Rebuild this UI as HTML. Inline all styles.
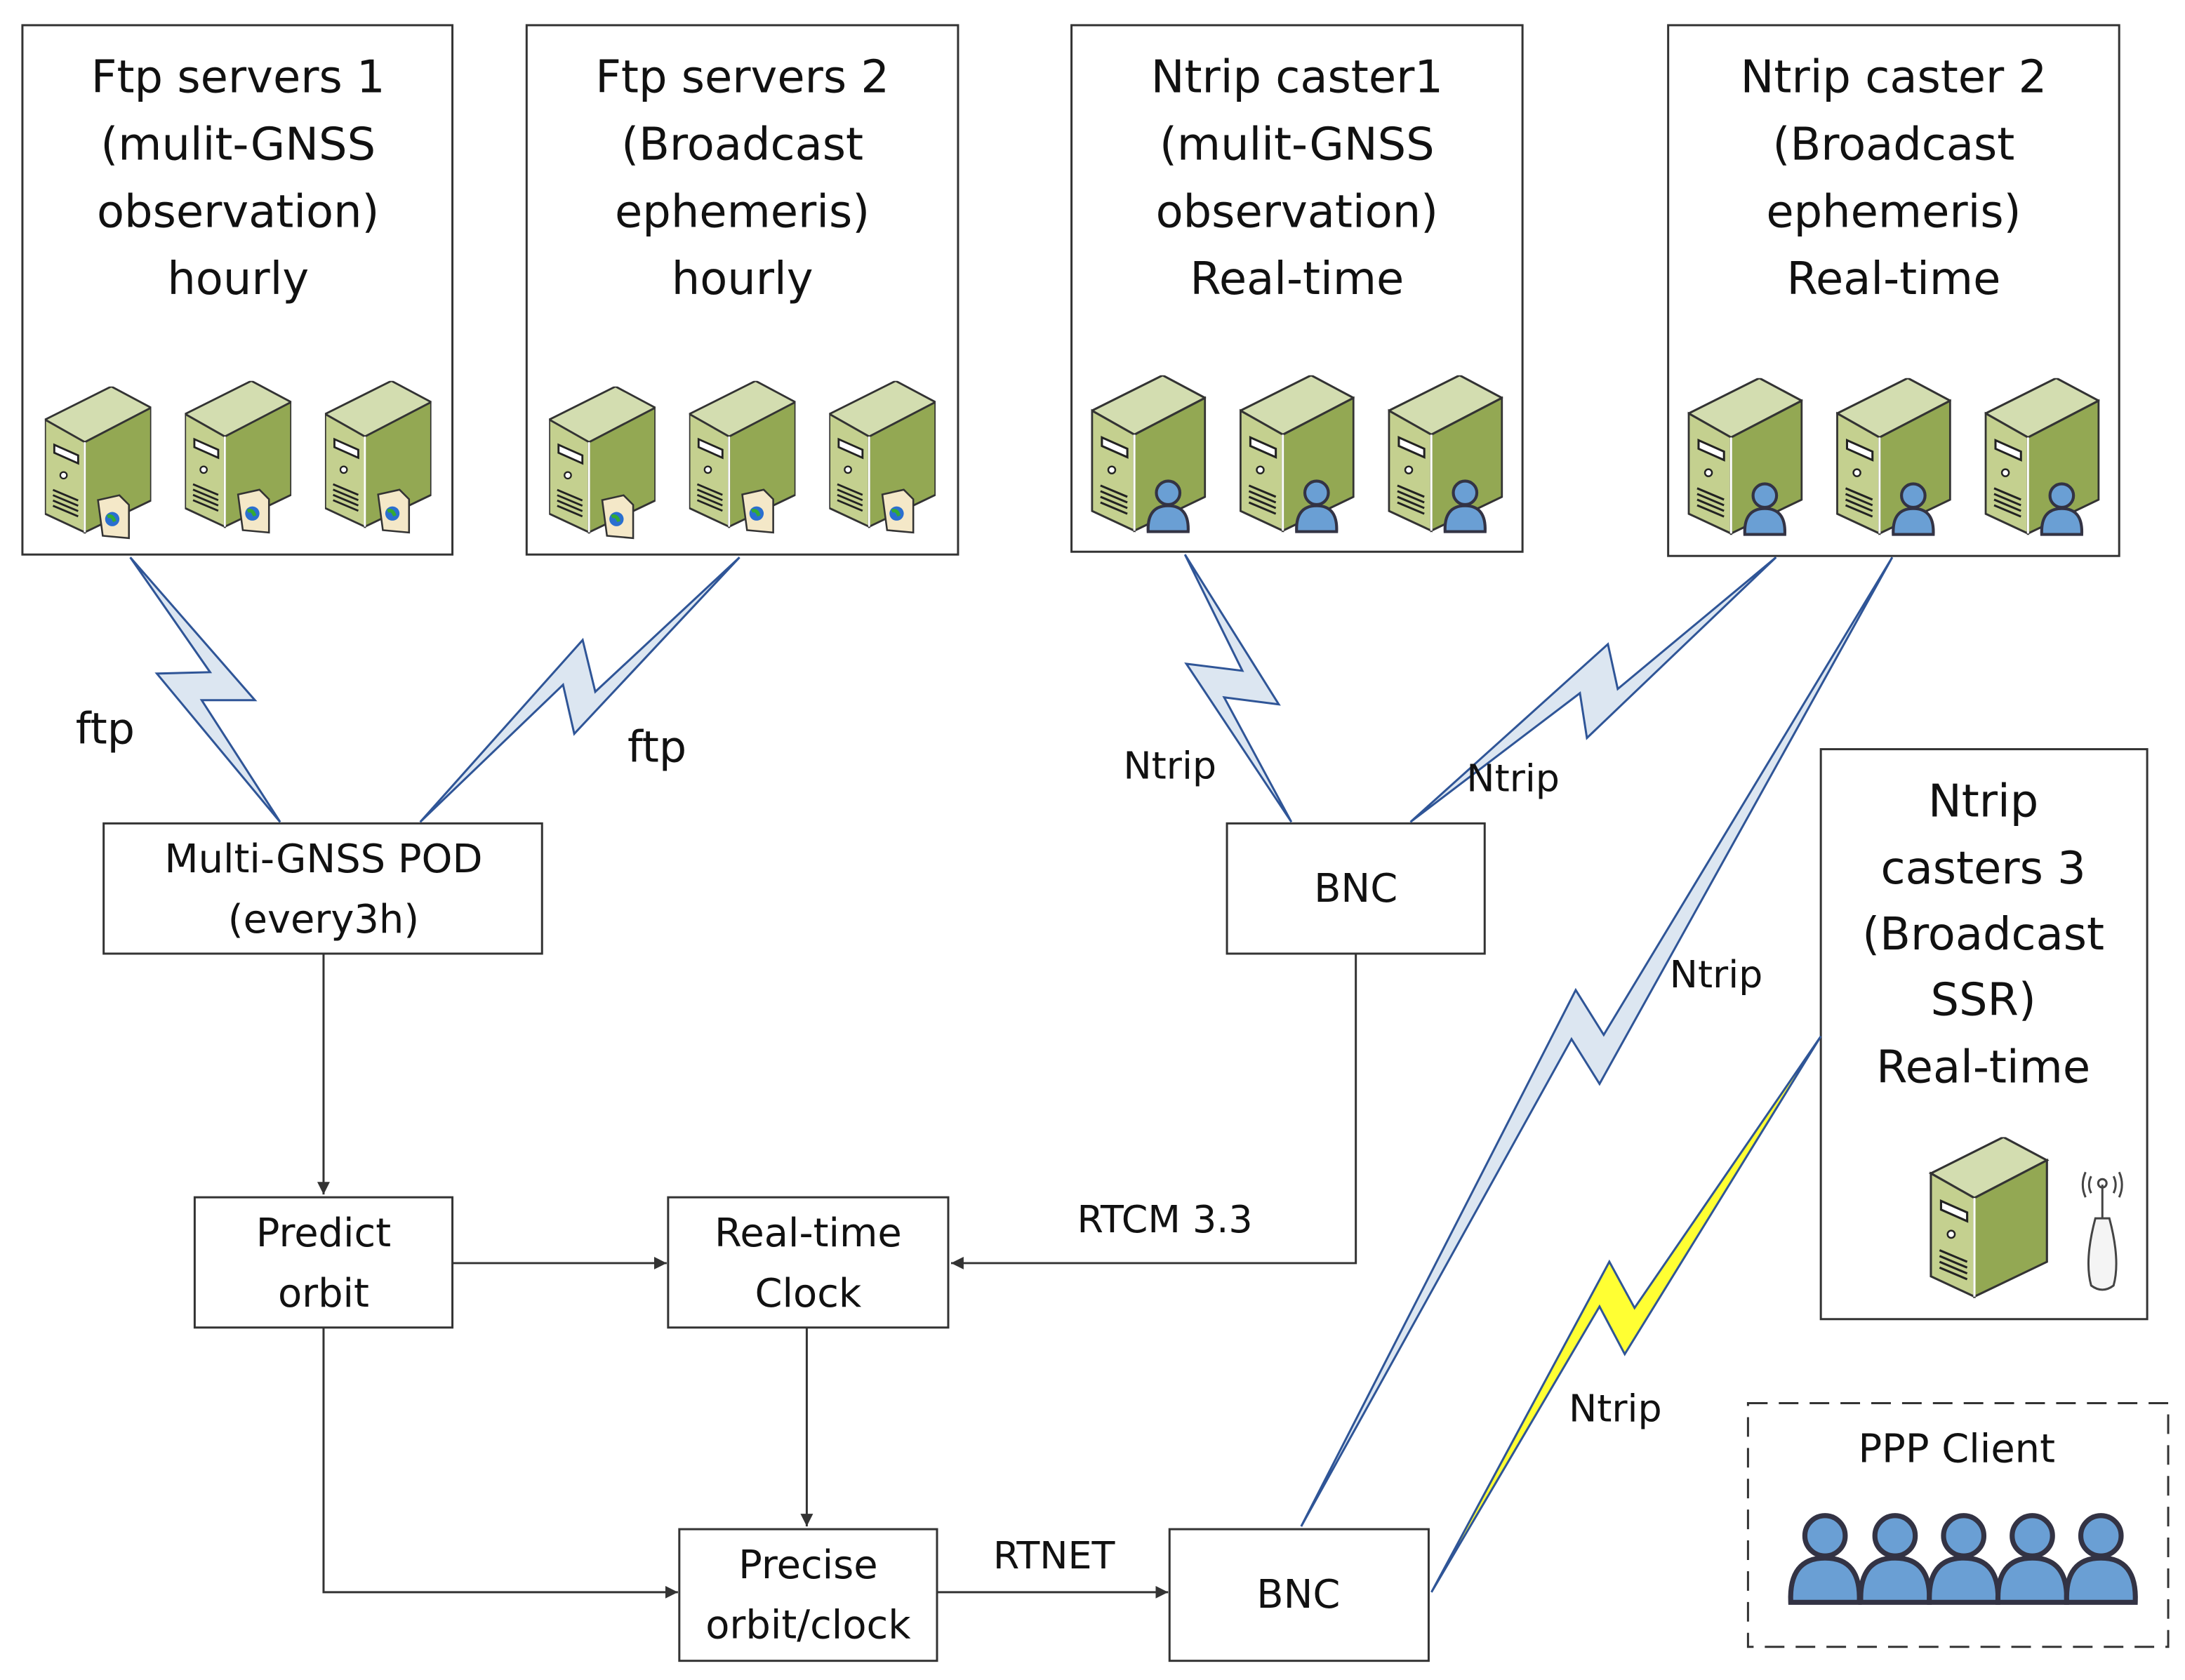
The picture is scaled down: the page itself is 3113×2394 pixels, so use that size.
<!DOCTYPE html>
<html><head><meta charset="utf-8"><style>
html,body{margin:0;padding:0;background:#fff}
svg{display:block}
text{font-family:"DejaVu Sans","Liberation Sans",sans-serif;fill:#111}
</style></head><body>
<svg width="3113" height="2394" viewBox="0 0 1560 1199.7" preserveAspectRatio="none" xmlns="http://www.w3.org/2000/svg">
<defs>
<symbol id="srv" viewBox="0 0 80 112">
<polygon points="0,25 50,0 80,16 30,42" fill="#d3ddb0" stroke="#333" stroke-width="1.5"/>
<polygon points="0,25 30,42 30,110 0,96" fill="#c4d08f" stroke="#333" stroke-width="1.5"/>
<polygon points="30,42 80,16 80,86 30,110" fill="#93a853" stroke="#333" stroke-width="1.5"/>
<line x1="30" y1="42" x2="30" y2="110" stroke="#fff" stroke-width="1.5"/>
<polygon points="7,44 25,52 25,58 7,50" fill="#fff" stroke="#222" stroke-width="1.5"/>
<circle cx="14" cy="67" r="2.5" fill="#fff" stroke="#222" stroke-width="1.2"/>
<path d="M6,78 L25,86 M6,82 L25,90 M6,86 L25,94 M6,90 L25,98" stroke="#222" stroke-width="1.5"/>
</symbol>
<symbol id="usr" viewBox="0 0 40 50">
<circle cx="20" cy="13" r="10" fill="#6a9fd4" stroke="#334" stroke-width="2.5"/>
<path d="M3,46 Q2,24 20,24 Q38,24 37,46 Z" fill="#6a9fd4" stroke="#334" stroke-width="2.5"/>
</symbol>
<symbol id="doc" viewBox="0 0 30 40">
<polygon points="2,6 20,2 28,10 28,38 6,36" fill="#f4e8c8" stroke="#333" stroke-width="1.5"/>
<circle cx="14" cy="22" r="6" fill="#2a6fd0"/><path d="M10,20 Q14,18 16,24" stroke="#3a3" stroke-width="3" fill="none"/>
</symbol>
<marker id="ar" viewBox="0 0 10 10" refX="10" refY="5" markerWidth="9" markerHeight="9" markerUnits="userSpaceOnUse" orient="auto"><path d="M0,0 L10,5 L0,10 Z" fill="#333"/></marker>
</defs>

<g fill="#fff" stroke="#333" stroke-width="1.5">
<rect x="16" y="18" width="307" height="378"/>
<rect x="376" y="18" width="308" height="378"/>
<rect x="765" y="18" width="322" height="376"/>
<rect x="1191" y="18" width="322" height="379"/>
<rect x="1300" y="535" width="233" height="407"/>
<rect x="74" y="588" width="313" height="93"/>
<rect x="876" y="588" width="184" height="93"/>
<rect x="139" y="855" width="184" height="93"/>
<rect x="477" y="855" width="200" height="93"/>
<rect x="485" y="1092" width="184" height="94"/>
<rect x="835" y="1092" width="185" height="94"/>
<rect x="1248" y="1002" width="300" height="174" stroke-dasharray="14,8"/>
</g>

<g fill="#dce6f1" stroke="#2f5597" stroke-width="1.5" stroke-linejoin="miter">
<polygon points="93,398 182,500 144,500 200,587 112,481 150,480"/>
<polygon points="528,398 425,494 416,457 300,587 402,489 410,524"/>
<polygon points="846,396 913,503 874,498 922,587 847,474 887,479"/>
<polygon points="1268,398 1155,492 1148,460 1007,587 1128,495 1133,527"/>
<polygon points="1351,398 1145,739 1125,707 929,1090 1122,742 1142,774"/>
<polygon points="1300,740 1167,934 1149,901 1022,1137 1142,933 1160,967" fill="#ffff33"/>
</g>

<g font-size="32" text-anchor="middle">
<text x="170" y="66">Ftp servers 1</text><text x="170" y="114">(mulit-GNSS</text><text x="170" y="162">observation)</text><text x="170" y="210">hourly</text>
<text x="530" y="66">Ftp servers 2</text><text x="530" y="114">(Broadcast</text><text x="530" y="162">ephemeris)</text><text x="530" y="210">hourly</text>
<text x="926" y="66">Ntrip caster1</text><text x="926" y="114">(mulit-GNSS</text><text x="926" y="162">observation)</text><text x="926" y="210">Real-time</text>
<text x="1352" y="66">Ntrip caster 2</text><text x="1352" y="114">(Broadcast</text><text x="1352" y="162">ephemeris)</text><text x="1352" y="210">Real-time</text>
<text x="1416" y="583">Ntrip</text><text x="1416" y="631">casters 3</text><text x="1416" y="678">(Broadcast</text><text x="1416" y="725">SSR)</text><text x="1416" y="773">Real-time</text>
</g>
<g font-size="28" text-anchor="middle">
<text x="231" y="623">Multi-GNSS POD</text><text x="231" y="666">(every3h)</text>
<text x="968" y="644">BNC</text>
<text x="231" y="890">Predict</text><text x="231" y="933">orbit</text>
<text x="577" y="890">Real-time</text><text x="577" y="933">Clock</text>
<text x="577" y="1127">Precise</text><text x="577" y="1170">orbit/clock</text>
<text x="927" y="1148">BNC</text>
<text x="1397" y="1044">PPP Client</text>
</g>
<g font-size="31"><text x="54" y="531">ftp</text><text x="448" y="544">ftp</text></g>
<g font-size="27">
<text x="802" y="556">Ntrip</text><text x="1047" y="565">Ntrip</text><text x="1192" y="705">Ntrip</text><text x="1120" y="1015">Ntrip</text>
<text x="769" y="880">RTCM 3.3</text><text x="709" y="1120">RTNET</text>
</g>

<g stroke="#333" stroke-width="1.5" fill="none" marker-end="url(#ar)">
<path d="M231,681 V853"/>
<path d="M323,902 H476"/>
<path d="M968,681 V902 H679"/>
<path d="M576,948 V1090"/>
<path d="M231,948 V1137 H484"/>
<path d="M669,1137 H834"/>
</g>

<g>
<use href="#srv" x="32" y="276" width="76" height="106"/><use href="#doc" x="68" y="352" width="26" height="34"/>
<use href="#srv" x="132" y="272" width="76" height="106"/><use href="#doc" x="168" y="348" width="26" height="34"/>
<use href="#srv" x="232" y="272" width="76" height="106"/><use href="#doc" x="268" y="348" width="26" height="34"/>
<use href="#srv" x="392" y="276" width="76" height="106"/><use href="#doc" x="428" y="352" width="26" height="34"/>
<use href="#srv" x="492" y="272" width="76" height="106"/><use href="#doc" x="528" y="348" width="26" height="34"/>
<use href="#srv" x="592" y="272" width="76" height="106"/><use href="#doc" x="628" y="348" width="26" height="34"/>
<use href="#srv" x="779" y="268" width="82" height="113"/><use href="#usr" x="817" y="341" width="34" height="42"/>
<use href="#srv" x="885" y="268" width="82" height="113"/><use href="#usr" x="923" y="341" width="34" height="42"/>
<use href="#srv" x="991" y="268" width="82" height="113"/><use href="#usr" x="1029" y="341" width="34" height="42"/>
<use href="#srv" x="1205" y="270" width="82" height="113"/><use href="#usr" x="1243" y="343" width="34" height="42"/>
<use href="#srv" x="1311" y="270" width="82" height="113"/><use href="#usr" x="1349" y="343" width="34" height="42"/>
<use href="#srv" x="1417" y="270" width="82" height="113"/><use href="#usr" x="1455" y="343" width="34" height="42"/>
<use href="#srv" x="1377" y="812" width="86" height="116"/>
</g>
<g stroke="#444" stroke-width="1.5" fill="none">
<path d="M1493,918 Q1488,900 1496,870 L1506,870 Q1514,900 1509,918 Q1501,924 1493,918 Z" fill="#f4f4f4"/>
<line x1="1501" y1="870" x2="1501" y2="846"/>
<circle cx="1501" cy="845" r="3"/>
<path d="M1493,840 Q1490,846 1493,852 M1509,840 Q1512,846 1509,852 M1489,837 Q1485,846 1489,855 M1513,837 Q1517,846 1513,855"/>
</g>
<g>
<use href="#usr" x="1274" y="1078" width="58" height="72"/>
<use href="#usr" x="1324" y="1078" width="58" height="72"/>
<use href="#usr" x="1373" y="1078" width="58" height="72"/>
<use href="#usr" x="1422" y="1078" width="58" height="72"/>
<use href="#usr" x="1471" y="1078" width="58" height="72"/>
</g>
</svg>
</body></html>
